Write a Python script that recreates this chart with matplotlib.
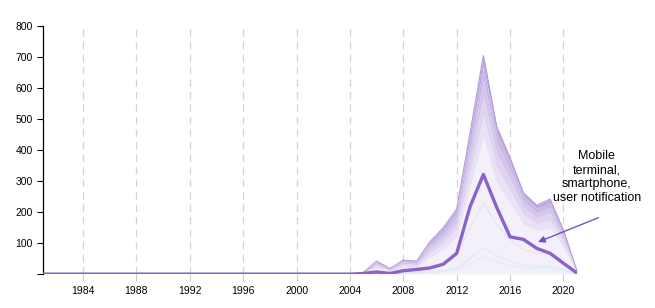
import numpy as np
import matplotlib
matplotlib.use("Agg")
import matplotlib.pyplot as plt

plt.rcParams['font.family'] = ['Liberation Sans', 'DejaVu Sans']

years = list(range(1981, 2022))

# zeros for 1981-2003, then 2004..2021
pre = [0] * 23

# stacked layers, bottom to top
layer_a = pre + [0, 2, 20, 8, 22, 20, 55, 80, 120, 280, 440, 290, 230, 160, 140, 150, 85, 6]
layer_b = pre + [0, 1, 6, 3, 7, 6, 14, 18, 25, 45, 70, 50, 40, 30, 22, 25, 15, 2]
layer_c = pre + [0, 1, 5, 2, 5, 5, 12, 16, 22, 40, 60, 45, 35, 25, 20, 22, 14, 2]
layer_d = pre + [0, 1, 5, 2, 5, 5, 10, 14, 18, 35, 55, 40, 30, 20, 16, 18, 11, 1]
layer_e = pre + [0, 0, 4, 2, 4, 4, 8, 12, 15, 30, 45, 30, 25, 17, 14, 15, 10, 1]
layer_f = pre + [0, 0, 2, 1, 2, 2, 6, 10, 10, 25, 35, 20, 15, 10, 10, 12, 7, 0]

# faint single lines
faint_grey = pre + [0, 0, 5, 2, 6, 6, 15, 30, 60, 150, 230, 160, 110, 80, 65, 70, 40, 3]
faint_blue1 = pre + [0, 0, 2, 1, 3, 4, 8, 12, 20, 50, 85, 60, 40, 30, 25, 25, 15, 2]
faint_blue2 = pre + [0, 0, 1, 1, 2, 3, 5, 8, 14, 35, 55, 40, 28, 22, 18, 17, 10, 1]

# highlighted series
mobile = pre + [0, 2, 7, 2, 11, 15, 20, 32, 67, 217, 321, 215, 120, 112, 83, 67, 35, 4]

layers = [layer_a, layer_b, layer_c, layer_d, layer_e, layer_f]
colors = ['#f4f0fa', '#e9e1f5', '#dfd4f0', '#d4c6eb', '#c9b8e6', '#bda8e0']

fig = plt.figure(figsize=(6.55, 3.08), dpi=100)
ax = fig.add_axes([0.0656, 0.110, 0.815, 0.806])

x = np.array(years)
bottom = np.zeros(len(years))
for vals, c in zip(layers, colors):
    top = bottom + np.array(vals)
    ax.fill_between(x, bottom, top, color=c, lw=0, zorder=2)
    bottom = top
ax.plot(x, bottom, color='#b49ddc', lw=0.8, zorder=2)

ax.plot(x, faint_grey, color='#e6e0ee', lw=0.7, zorder=3)
ax.plot(x, faint_blue1, color='#d8e9f3', lw=0.7, zorder=3)
ax.plot(x, faint_blue2, color='#deedf5', lw=0.7, zorder=3)

ax.plot(x, mobile, color='#8a63c9', lw=2.4, zorder=5)

ax.set_xlim(1981, 2021)
ax.set_ylim(0, 800)
ax.set_xticks(range(1984, 2021, 4))
ax.set_yticks(range(0, 801, 100))
ax.set_yticklabels([''] + [str(v) for v in range(100, 801, 100)])
ax.tick_params(axis='both', labelsize=7.5, length=4, width=0.8)
ax.tick_params(axis='x', color='#cccccc', length=5)

ax.grid(axis='x', color='#d4d4d4', linestyle=(0, (6, 4)), lw=0.9, zorder=0)
for s in ['top', 'right', 'bottom']:
    ax.spines[s].set_visible(False)
ax.spines['left'].set_linewidth(0.9)

ax.text(2022.5, 313, 'Mobile\nterminal,\nsmartphone,\nuser notification',
        ha='center', va='center', fontsize=9, linespacing=1.2)
ax.annotate('', xy=(2017.9, 100), xytext=(2022.8, 185),
            arrowprops=dict(arrowstyle='-|>', color='#7b4fc0', lw=1.0,
                            mutation_scale=10),
            annotation_clip=False)

fig.savefig('out.png', dpi=100)
